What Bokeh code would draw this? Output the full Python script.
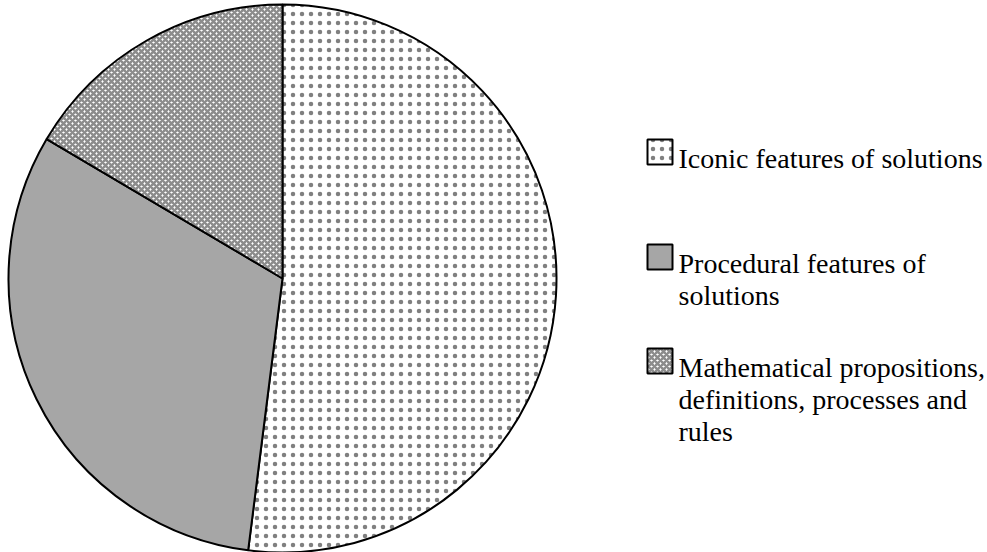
import math
from bokeh.plotting import figure
from bokeh.core.properties import value
from bokeh.embed import file_html
from bokeh.resources import INLINE

# ---- data ----
categories = ["Iconic features of solutions",
              "Procedural features of\nsolutions",
              "Mathematical propositions,\ndefinitions, processes and\nrules"]
shares = [52.0, 31.5, 16.5]

# ---- styles ----
fills = ["white", "#a6a6a6", "white"]
hatches = ["dot", " ", "diagonal_cross"]
hcolors = ["#808080", "#808080", "#8c8c8c"]
hscales = [9, 8, 6]
hweights = [2.5, 1, 2.5]

PW, PH = 987, 552
p = figure(width=PW, height=PH, x_range=(0, PW), y_range=(0, PH),
           output_backend="svg", toolbar_location=None, min_border=0,
           styles={"position": "absolute", "left": "0px", "top": "0px"})
p.axis.visible = False
p.grid.visible = False
p.outline_line_color = None

cx, cy, r = 282, PH - 278, 274
total = sum(shares)
start = math.pi / 2
for k, s in enumerate(shares):
    end = start - 2 * math.pi * s / total
    p.wedge(x=cx, y=cy, radius=r, start_angle=end, end_angle=start,
            fill_color=fills[k], line_color="black", line_width=2,
            hatch_pattern=hatches[k], hatch_color=hcolors[k],
            hatch_scale=hscales[k], hatch_weight=hweights[k])
    start = end

# ---- legend ----
sq = 25
lx = 647
fs = 28
lh = 32
first_base = [158, 263, 367]   # screen y of each entry's first baseline
for k, name in enumerate(categories):
    b0 = first_base[k]
    p.rect(x=lx + sq / 2, y=PH - (b0 - 19 + sq / 2), width=sq, height=sq,
           fill_color=fills[k], line_color="black", line_width=2,
           hatch_pattern=hatches[k], hatch_color=hcolors[k],
           hatch_scale=hscales[k], hatch_weight=hweights[k])
    for i, line in enumerate(name.split("\n")):
        p.text(x=678, y=PH - (b0 + i * lh), text=[line],
               text_font=value("Liberation Serif"),
               text_font_size=f"{fs}px", text_baseline="alphabetic", text_align="left",
               text_color="black")

open("out.html", "w").write(file_html(p, INLINE))
